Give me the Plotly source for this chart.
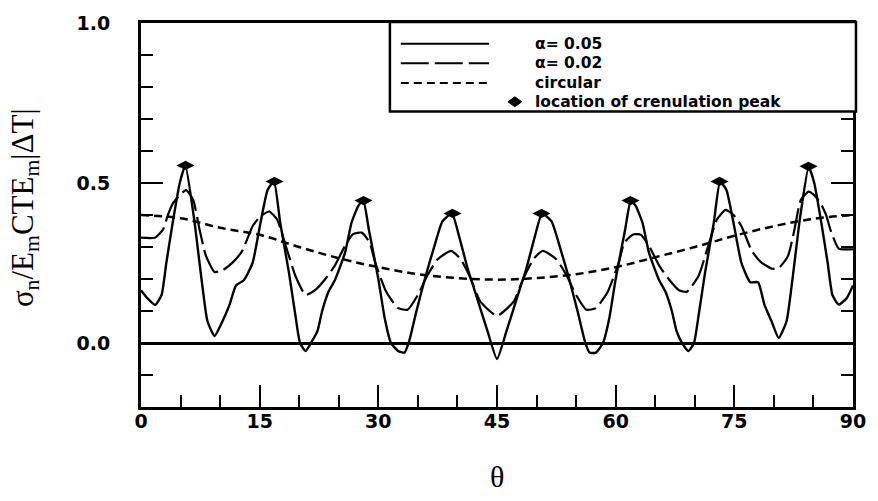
import plotly.graph_objects as go

# ---------------- data ----------------
theta_a05 = [0, 0.8, 1.8, 2.6, 3.2, 4.0, 4.9, 5.6, 6.7, 7.6, 8.4, 9.3, 10.3, 11.2, 12.0, 13.0,
             14.1, 15.1, 16.0, 16.8, 17.6, 18.7, 19.5, 20.1, 20.8, 21.6, 22.3, 22.9, 23.7, 24.5,
             25.8, 26.6, 27.5, 28.1, 28.8, 30.0, 30.8, 31.6, 32.5, 33.3, 33.9, 34.8, 36.0, 37.1,
             38.1, 39.3, 40.2, 41.3, 42.5, 43.8, 45.0,
             46.2, 47.5, 48.7, 49.8, 50.7, 51.9, 52.9, 54.0, 55.2, 56.1, 56.7, 57.5, 58.4, 59.2,
             60.0, 61.2, 61.9, 62.5, 63.4, 64.2, 65.5, 66.3, 67.1, 67.7, 68.4, 69.2, 69.9, 70.5,
             71.3, 72.4, 73.2, 74.0, 74.9, 75.9, 77.0, 78.0, 78.8, 79.7, 80.6, 81.6, 82.4, 83.3,
             84.4, 85.1, 86.0, 86.8, 87.4, 88.2, 89.2, 90.0]
sigma_a05 = [0.165, 0.14, 0.119, 0.15, 0.25, 0.375, 0.5, 0.555, 0.39, 0.21, 0.068, 0.022, 0.068,
             0.12, 0.18, 0.196, 0.25, 0.375, 0.478, 0.505, 0.375, 0.22, 0.089, 0.0, -0.025, 0.005,
             0.037, 0.100, 0.16, 0.196, 0.283, 0.375, 0.43, 0.445, 0.355, 0.2, 0.078, 0.0, -0.025,
             -0.03, 0.006, 0.098, 0.211, 0.304, 0.38, 0.405, 0.334, 0.232, 0.139, 0.037, -0.05,
             0.037, 0.139, 0.232, 0.334, 0.405, 0.38, 0.304, 0.211, 0.098, 0.006, -0.03, -0.03,
             0.0, 0.078, 0.2, 0.355, 0.443, 0.43, 0.375, 0.283, 0.196, 0.16, 0.100, 0.037, 0.0,
             -0.025, 0.0, 0.089, 0.22, 0.375, 0.504, 0.478, 0.375, 0.25, 0.19, 0.19, 0.12, 0.068,
             0.016, 0.068, 0.21, 0.39, 0.55, 0.5, 0.375, 0.25, 0.15, 0.12, 0.14, 0.18]

theta_a02 = [0, 1.75, 2.8, 3.4, 4.05, 4.9, 5.7, 6.6, 7.4, 8.2, 9.3, 10.3, 11.6, 12.8, 14.1, 15.1,
             16.2, 17.2, 18.3, 19.5, 20.8, 22.0, 23.3, 24.5, 25.8, 26.8, 27.9, 28.9, 29.6, 31.0,
             32.5, 33.7, 35.0, 36.2, 37.5, 39.2, 40.4, 41.7, 42.9, 45.0,
             47.1, 48.3, 49.6, 50.8, 52.5, 53.8, 55.0, 56.3, 57.5, 59.0, 60.4, 61.1, 62.3, 63.2,
             64.2, 65.5, 66.7, 68.0, 69.0, 70.5, 71.7, 72.8, 73.9, 74.9, 75.9, 77.2, 78.4, 79.8,
             80.6, 81.8, 82.6, 83.4, 84.4, 85.1, 85.9, 86.6, 87.2, 88.2, 90.0]
sigma_a02 = [0.329, 0.329, 0.355, 0.40, 0.437, 0.462, 0.478, 0.447, 0.355, 0.273, 0.222, 0.227,
             0.252, 0.288, 0.365, 0.396, 0.411, 0.386, 0.304, 0.211, 0.15, 0.165, 0.2, 0.242,
             0.304, 0.34, 0.345, 0.314, 0.252, 0.16, 0.109, 0.104, 0.15, 0.211, 0.262, 0.288,
             0.262, 0.2, 0.129, 0.085,
             0.129, 0.2, 0.262, 0.288, 0.262, 0.211, 0.15, 0.104, 0.109, 0.16, 0.252, 0.314,
             0.34, 0.338, 0.304, 0.242, 0.2, 0.165, 0.16, 0.211, 0.304, 0.386, 0.416, 0.40,
             0.365, 0.288, 0.252, 0.232, 0.234, 0.273, 0.355, 0.447, 0.473, 0.462, 0.437,
             0.40, 0.35, 0.295, 0.293]

theta_circ = [0, 5, 10, 15, 20, 25, 30, 35, 40, 45, 50, 55, 60, 65, 70, 75, 80, 85, 90]
sigma_circ = [0.40, 0.39, 0.36, 0.338, 0.30, 0.265, 0.237, 0.215, 0.203, 0.198, 0.203, 0.215,
              0.237, 0.268, 0.30, 0.335, 0.365, 0.388, 0.40]

theta_peak = [5.625, 16.875, 28.125, 39.375, 50.625, 61.875, 73.125, 84.375]
sigma_peak = [0.555, 0.505, 0.445, 0.405, 0.405, 0.445, 0.505, 0.552]

x_ticks = [0, 15, 30, 45, 60, 75, 90]
y_ticks = [0.0, 0.5, 1.0]
y_ticktext = ["0.0", "0.5", "1.0"]

legend_labels = ["α= 0.05", "α= 0.02", "circular", "location of crenulation peak"]

# ---------------- figure ----------------
fig = go.Figure()
fig.add_trace(go.Scatter(x=theta_circ, y=sigma_circ, mode="lines", line_shape="spline",
                         line=dict(color="black", width=2.5, dash="8px,5px"), showlegend=False))
fig.add_trace(go.Scatter(x=theta_a02, y=sigma_a02, mode="lines", line_shape="spline",
                         line=dict(color="black", width=2.2, dash="28px,6px", smoothing=0.5),
                         showlegend=False))
fig.add_trace(go.Scatter(x=theta_a05, y=sigma_a05, mode="lines", line_shape="spline",
                         line=dict(color="black", width=2.4, smoothing=0.5), showlegend=False))
fig.add_trace(go.Scatter(x=theta_peak, y=sigma_peak, mode="markers",
                         marker=dict(symbol="diamond-wide", size=13, color="black"),
                         showlegend=False))

tickfont = dict(family="DejaVu Sans", size=19, color="black", weight="bold")

fig.update_xaxes(range=[0, 90], tickvals=x_ticks, ticks="inside", ticklen=22, tickwidth=2,
                 tickcolor="black", minor=dict(dtick=5, tick0=0, ticks="inside", ticklen=12,
                                               tickwidth=2, tickcolor="black"),
                 showline=True, linewidth=3, linecolor="black", mirror=True,
                 showgrid=False, zeroline=False, tickfont=tickfont, ticklabelstandoff=-5)
fig.update_yaxes(range=[-0.2, 1.0], tickvals=y_ticks, ticktext=y_ticktext, ticks="inside",
                 ticklen=22, tickwidth=2, tickcolor="black",
                 minor=dict(dtick=0.1, tick0=0, ticks="inside", ticklen=12, tickwidth=2,
                            tickcolor="black"),
                 showline=True, linewidth=3, linecolor="black", mirror="ticks",
                 showgrid=False, zeroline=True, zerolinecolor="black", zerolinewidth=2.5,
                 tickfont=tickfont, ticklabelstandoff=24)

# plot area in pixels: x 141..859, y 17..407
L, R, T, B = 141, 859, 17, 407
W, H = R - L, B - T


def px(xp):
    return (xp - L) / W


def py(yp):
    return (B - yp) / H


shapes = []
annotations = []
# legend box
shapes.append(dict(type="rect", xref="paper", yref="paper", x0=px(392), x1=px(862),
                   y0=py(107), y1=py(16), line=dict(color="black", width=2.5),
                   fillcolor="white", layer="above"))
row_y = [38, 58, 78, 97]
dashes = ["solid", "28px,6px", "8px,5px"]
for i, d in enumerate(dashes):
    shapes.append(dict(type="line", xref="paper", yref="paper", x0=px(403), x1=px(492),
                       y0=py(row_y[i]), y1=py(row_y[i]), line=dict(color="black", width=2, dash=d),
                       layer="above"))
# diamond in legend
dx, dy = 518, row_y[3]
shapes.append(dict(type="path", xref="paper", yref="paper", layer="above",
                   path=f"M {px(dx-7)} {py(dy)} L {px(dx)} {py(dy-5)} L {px(dx+7)} {py(dy)} L {px(dx)} {py(dy+5)} Z",
                   fillcolor="black", line=dict(color="black", width=1)))
for i, lab in enumerate(legend_labels):
    annotations.append(dict(xref="paper", yref="paper", x=px(536), y=py(row_y[i]), text=lab,
                            showarrow=False, xanchor="left", yanchor="middle",
                            font=dict(family="DejaVu Sans", size=15.5, color="black", weight="bold")))

# axis titles
annotations.append(dict(xref="paper", yref="paper", x=px(24), y=py(204),
                        text="σ<sub>n</sub>/E<sub>m</sub>CTE<sub>m</sub>|ΔT|", textangle=-90,
                        showarrow=False, xanchor="center", yanchor="middle",
                        font=dict(family="Liberation Serif", size=31, color="black")))
annotations.append(dict(xref="paper", yref="paper", x=px(500), y=py(478), text="θ",
                        showarrow=False, xanchor="center", yanchor="middle",
                        font=dict(family="Liberation Serif", size=30, color="black")))

fig.update_layout(width=878, height=501, margin=dict(l=L, r=878 - R, t=T, b=501 - B),
                  paper_bgcolor="white", plot_bgcolor="white", showlegend=False,
                  shapes=shapes, annotations=annotations)

fig.write_html("out.html")
